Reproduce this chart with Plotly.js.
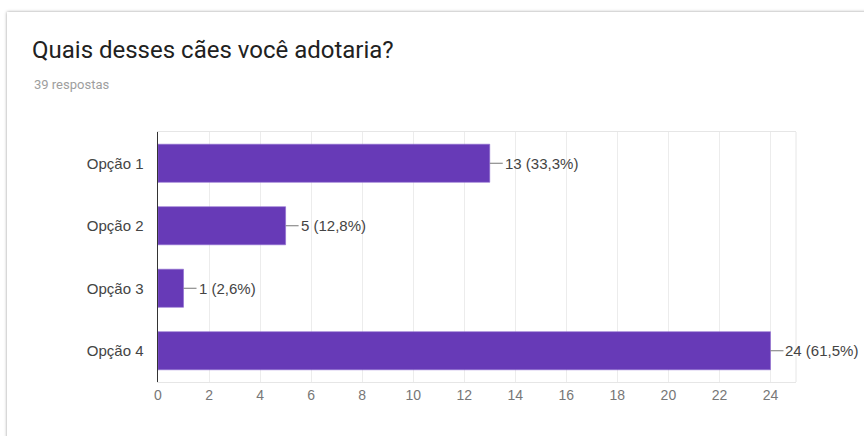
<!DOCTYPE html>
<html>
<head>
<meta charset="utf-8">
<script src="https://cdn.plot.ly/plotly-3.0.1.min.js"></script>
<style>
  html, body { margin: 0; padding: 0; background: #ffffff; width: 864px; height: 436px; overflow: hidden; }
  #card { position: absolute; left: 7px; top: 12px; width: 900px; height: 500px; background: #fff;
          box-shadow: 0 0 3px rgba(0,0,0,0.4); }
  #chart { position: absolute; left: 0; top: 0; width: 864px; height: 436px; }
</style>
</head>
<body>
<div id="card"></div>
<div id="chart"></div>
<script>
const categories = ["Opção 1", "Opção 2", "Opção 3", "Opção 4"];
const counts = [13, 5, 1, 24];
const valueLabels = ["13 (33,3%)", "5 (12,8%)", "1 (2,6%)", "24 (61,5%)"];
const titleText = "Quais desses cães você adotaria?";
const subtitleText = "39 respostas";
const xTicks = [0, 2, 4, 6, 8, 10, 12, 14, 16, 18, 20, 22, 24];

const trace = {
  type: "bar",
  orientation: "h",
  x: counts,
  y: categories,
  width: 0.61,
  marker: { color: "#673ab7", line: { color: "#8e6bd0", width: 0.6 } },
  hoverinfo: "none"
};

const annotations = categories.map((c, i) => ({
  x: counts[i], y: c, xref: "x", yref: "y",
  text: valueLabels[i],
  showarrow: true, arrowhead: 0, arrowwidth: 1, arrowcolor: "#777",
  ax: 13, ay: 0, xanchor: "left", yanchor: "middle",
  standoff: 0, startstandoff: 0,
  font: { family: "Liberation Sans, Arial, sans-serif", size: 15, color: "#444" }
}));

annotations.push({
  xref: "paper", yref: "paper", x: (32 - 158) / (864 - 158 - 68), y: (436 - 54 - 84) / (436 - 132 - 54),
  xanchor: "left", yanchor: "middle", showarrow: false,
  text: subtitleText,
  font: { family: "Roboto, sans-serif", size: 13, color: "#9e9e9e" }
});

const layout = {
  width: 864, height: 436,
  margin: { l: 158, r: 68, t: 132, b: 54 },
  paper_bgcolor: "rgba(0,0,0,0)",
  plot_bgcolor: "rgba(0,0,0,0)",
  showlegend: false,
  title: {
    text: titleText, x: 32 / 864, xanchor: "left", xref: "container",
    y: 1 - 50 / 436, yanchor: "middle", yref: "container",
    font: { family: "Roboto, sans-serif", size: 24, color: "#212121" }
  },
  xaxis: {
    range: [0, 25], tickvals: xTicks, ticktext: xTicks.map(String),
    showgrid: true, gridcolor: "#ececec", gridwidth: 1,
    zeroline: false,
    showline: true, linecolor: "#e6e6e6", linewidth: 1, mirror: true,
    ticks: "", ticklen: 0,
    tickfont: { family: "Liberation Sans, Arial, sans-serif", size: 14, color: "#777" },
    fixedrange: true
  },
  yaxis: {
    autorange: "reversed",
    showgrid: false, zeroline: false,
    showline: true, linecolor: "#333", linewidth: 1.5,
    ticks: "", ticklen: 0, ticklabelstandoff: 10,
    tickfont: { family: "Liberation Sans, Arial, sans-serif", size: 15, color: "#444" },
    fixedrange: true
  },
  shapes: [
    { type: "line", xref: "paper", yref: "paper", x0: 1, x1: 1, y0: 0, y1: 1,
      line: { color: "#e6e6e6", width: 1 } }
  ],
  annotations: annotations
};

Plotly.newPlot("chart", [trace], layout, { displayModeBar: false, staticPlot: true });
</script>
</body>
</html>
